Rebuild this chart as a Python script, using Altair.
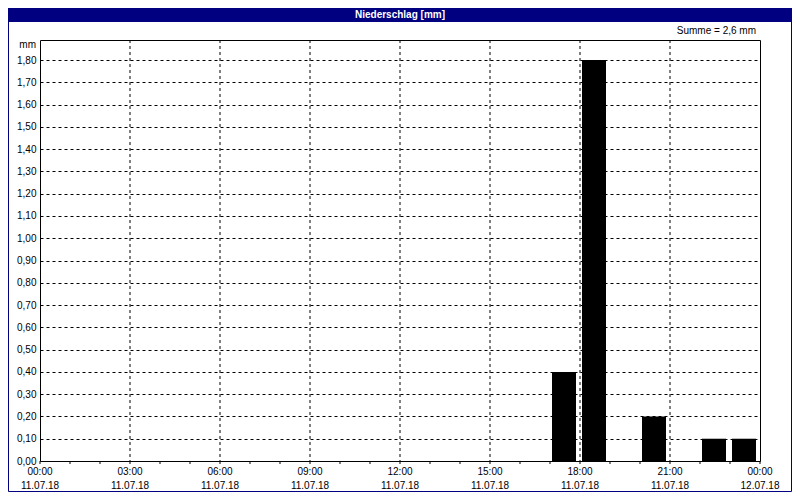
import altair as alt
import pandas as pd

# ---- data ----
bar_hours = [17, 18, 20, 22, 23]          # hour start of each precipitation interval
bar_values = [0.4, 1.8, 0.2, 0.1, 0.1]     # mm
grid_hours = [3, 6, 9, 12, 15, 18, 21]
minor_tick_hours = list(range(0, 25))
x_label_hours = [0, 3, 6, 9, 12, 15, 18, 21, 24]
x_time_labels = ["00:00", "03:00", "06:00", "09:00", "12:00", "15:00", "18:00", "21:00", "00:00"]
x_date_labels = ["11.07.18", "11.07.18", "11.07.18", "11.07.18", "11.07.18",
                 "11.07.18", "11.07.18", "11.07.18", "12.07.18"]
y_ticks = [0.0, 0.1, 0.2, 0.3, 0.4, 0.5, 0.6, 0.7, 0.8, 0.9,
           1.0, 1.1, 1.2, 1.3, 1.4, 1.5, 1.6, 1.7, 1.8]
y_max = 1.89
title_text = "Niederschlag [mm]"
unit_text = "mm"

FONT = "Liberation Sans"
NAVY = "#000080"
W, H = 720, 421

bars_df = pd.DataFrame({"hour": bar_hours, "mm": bar_values})
grid_df = pd.DataFrame({"hour": grid_hours})
tick_df = pd.DataFrame({"hour": minor_tick_hours})
label_df = pd.DataFrame({"hour": x_label_hours, "time": x_time_labels, "date": x_date_labels})
one = pd.DataFrame({"k": [0]})

x_scale = alt.Scale(domain=[0, 24], nice=False, zero=False)
y_scale = alt.Scale(domain=[0, y_max], nice=False, zero=True)

x_axis = alt.Axis(values=x_label_hours, labels=False, title=None, grid=False,
                  domain=False, ticks=False)
y_axis = alt.Axis(
    values=y_ticks, labelExpr="replace(format(datum.value, '.2f'), '.', ',')",
    title=None, grid=True, gridColor="black", gridDash=[3, 3], gridWidth=1,
    domain=False, ticks=False, labelPadding=4, labelFont=FONT, labelFontSize=10,
    labelColor="black", labelOverlap=False, labelFlush=False,
)

base = alt.Chart(bars_df)

bars = base.mark_bar(color="black", xOffset=2, x2Offset=-4).transform_calculate(
    hour_end="datum.hour + 1", zero="0"
).encode(
    x=alt.X("hour:Q", scale=x_scale, axis=x_axis),
    x2="hour_end:Q",
    y=alt.Y("mm:Q", scale=y_scale, axis=y_axis),
    y2="zero:Q",
)

xgrid = alt.Chart(grid_df).mark_rule(color="black", strokeDash=[3, 3], strokeWidth=1).encode(
    x=alt.X("hour:Q", scale=x_scale),
    y=alt.value(0), y2=alt.value(H),
)

minor_ticks = alt.Chart(tick_df).mark_rule(color="black", strokeWidth=1).encode(
    x=alt.X("hour:Q", scale=x_scale),
    y=alt.value(H), y2=alt.value(H + 3),
)

time_labels = alt.Chart(label_df).mark_text(
    align="center", baseline="middle", font=FONT, fontSize=10, color="black"
).encode(x=alt.X("hour:Q", scale=x_scale), y=alt.value(H + 11), text="time:N")

date_labels = alt.Chart(label_df).mark_text(
    align="center", baseline="middle", font=FONT, fontSize=10, color="black"
).encode(x=alt.X("hour:Q", scale=x_scale), y=alt.value(H + 25), text="date:N")

summe = base.transform_aggregate(total="sum(mm)").transform_calculate(
    label="'Summe = ' + replace(format(datum.total, '.1f'), '.', ',') + ' mm'"
).mark_text(align="right", baseline="middle", font=FONT, fontSize=10, color="black").encode(
    text="label:N", x=alt.value(W - 4), y=alt.value(-9)
)

unit = alt.Chart(one).mark_text(
    align="right", baseline="middle", font=FONT, fontSize=10, color="black", text=unit_text
).encode(x=alt.value(-4), y=alt.value(5))

title_bar = alt.Chart(one).mark_rect(color=NAVY).encode(
    x=alt.value(-32), x2=alt.value(W + 32), y=alt.value(-32), y2=alt.value(-18)
)
title = alt.Chart(one).mark_text(
    align="center", baseline="middle", font=FONT, fontSize=10, fontWeight="bold",
    color="white", text=title_text
).encode(x=alt.value(W / 2), y=alt.value(-25))

border = alt.Chart(one).mark_rect(fill=None, stroke=NAVY, strokeWidth=1).encode(
    x=alt.value(-31.5), x2=alt.value(W + 31.5), y=alt.value(-31.5), y2=alt.value(H + 30.5)
)

chart = alt.layer(xgrid, minor_ticks, bars, time_labels, date_labels, summe, unit,
                  title_bar, title, border).properties(
    width=W, height=H,
    padding={"left": 32, "top": 32, "right": 32, "bottom": 31},
    autosize=alt.AutoSizeParams(type="none"),
    background="white",
).configure_view(stroke="black", strokeWidth=1)

chart.save("out.html", embed_options={"renderer": "svg", "actions": False})
